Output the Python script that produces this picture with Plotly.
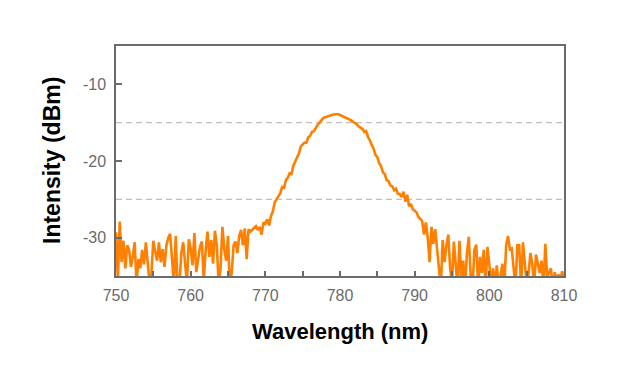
import numpy as np
import plotly.graph_objects as go

# wavelength grid: 750 .. 810 nm in 0.25 nm steps
wl_start, wl_step = 750.0, 0.25

intensity = [
    # 750
    -29.3, -35.5, -27.9, -33.2,
    -30.4, -34.0, -31.0, -31.6,
    -33.8, -32.5, -30.6, -36.0,
    -32.8, -34.0, -31.6, -33.5,
    -30.6, -33.8, -36.0, -34.5,
    # 755
    -30.4, -31.8, -33.0, -30.6,
    -33.2, -31.5, -33.8, -31.0,
    -30.0, -29.5, -32.8, -36.0,
    -29.8, -36.5, -36.0, -32.0,
    -30.6, -33.5, -36.0, -30.2,
    # 760
    -31.4, -33.6, -29.4, -34.5,
    -33.0, -31.2, -30.5, -35.5,
    -31.8, -29.2, -32.5, -30.3,
    -33.4, -29.1, -31.0, -36.2,
    -34.0, -28.6, -31.5, -33.0,
    # 765
    -29.8, -36.5, -34.5, -31.0,
    -30.5, -32.0, -29.8, -29.0,
    -31.0, -28.8, -32.8, -28.9,
    -29.2, -29.0, -28.7, -28.5,
    -29.0, -28.6, -29.6, -28.0,
    # 770
    -28.2, -27.6, -28.4, -27.2,
    -26.6, -25.4, -25.0, -24.6,
    -24.2, -23.4, -23.5, -22.5,
    -22.2, -21.6, -21.7, -20.6,
    -20.0, -19.6, -19.0, -18.1,
    # 775
    -17.8, -17.6, -17.6, -16.9,
    -16.7, -16.2, -16.1, -15.6,
    -15.3, -15.0, -14.7, -14.4,
    -14.3, -14.2, -14.1, -14.0,
    -13.9, -13.9, -13.9, -13.9,
    # 780
    -14.0, -14.1, -14.2, -14.3,
    -14.4, -14.6, -14.7, -14.9,
    -15.0, -15.2, -15.5, -15.7,
    -15.8, -16.2, -16.1, -16.9,
    -17.3, -17.9, -18.4, -19.2,
    # 785
    -19.5, -20.3, -20.7, -21.5,
    -21.7, -22.5, -22.6, -23.2,
    -23.3, -23.8, -23.6, -24.3,
    -24.3, -24.7, -24.0, -25.3,
    -24.4, -25.9, -25.6, -26.3,
    # 790
    -26.5, -26.7, -27.3, -27.6,
    -27.8, -29.6, -28.0, -30.0,
    -33.2, -28.6, -30.8, -28.9,
    -31.2, -33.5, -36.5, -30.3,
    -33.2, -31.0, -29.6, -34.0,
    # 795
    -35.8, -30.5, -33.2, -36.5,
    -30.4, -35.5, -33.0, -36.5,
    -32.0, -29.9, -35.0, -36.5,
    -31.6, -30.9, -36.5, -32.5,
    -34.6, -31.6, -36.5, -31.2,
    # 800
    -33.5, -36.5, -34.0, -36.5,
    -33.6, -36.5, -35.0, -33.4,
    -36.5, -31.0, -29.8, -31.5,
    -31.4, -34.5, -36.5, -31.0,
    -31.0, -36.5, -30.6, -33.4,
    # 805
    -36.0, -34.8, -32.0, -33.4,
    -36.5, -32.2, -33.5, -34.6,
    -33.0, -36.5, -30.8, -35.2,
    -34.5, -34.0, -36.5, -34.5,
    -35.5, -34.8, -35.5, -34.4,
    # 810
    -35.5,
]

wavelength = wl_start + wl_step * np.arange(len(intensity))

x_ticks = [750, 760, 770, 780, 790, 800, 810]
x_ticktext = ["750", "760", "770", "780", "790", "800", "810"]
y_ticks = [-30, -20, -10]
y_ticktext = ["-30", "-20", "-10"]
grid_levels = [-15, -25]

x_title = "Wavelength (nm)"
y_title = "Intensity (dBm)"

axis_col = "#6b6b6b"
font_fam = "Arial, Liberation Sans, sans-serif"

fig = go.Figure()
fig.add_trace(go.Scatter(
    x=wavelength, y=intensity, mode="lines",
    line=dict(color="#ff7f00", width=2.6),
    showlegend=False,
))

for g in grid_levels:
    fig.add_hline(y=g, line=dict(color="#c0c0c0", width=1.2, dash="6px,4px"),
                  layer="below")

# page body has an 8px margin, so the figure is sized to end at 640x384
fig.update_layout(
    width=632, height=376,
    margin=dict(l=108, r=76, t=38, b=108),
    paper_bgcolor="white", plot_bgcolor="white",
    font=dict(family=font_fam),
)
fig.update_xaxes(
    range=[750, 810], tickvals=x_ticks, ticktext=x_ticktext,
    showline=True, linecolor=axis_col, linewidth=1.5, mirror=True,
    ticks="inside", ticklen=5, tickcolor=axis_col, tickwidth=1.5,
    minor=dict(dtick=5, tick0=750, ticks="inside", ticklen=5,
               tickcolor=axis_col, tickwidth=1.5),
    showgrid=False, zeroline=False, automargin=False,
    tickfont=dict(size=16, color=axis_col),
    ticklabelstandoff=4,
)
fig.update_yaxes(
    range=[-35, -5], tickvals=y_ticks, ticktext=y_ticktext,
    showline=True, linecolor=axis_col, linewidth=1.5, mirror=True,
    ticks="inside", ticklen=6, tickcolor=axis_col, tickwidth=1.5,
    showgrid=False, zeroline=False, automargin=False,
    tickfont=dict(size=16, color=axis_col),
    ticklabelstandoff=5,
)

fig.add_annotation(
    text="<b>%s</b>" % x_title, xref="paper", yref="paper",
    x=0.5, y=0, xanchor="center", yanchor="middle", yshift=-55,
    showarrow=False, font=dict(size=22, color="black", family=font_fam),
)
fig.add_annotation(
    text="<b>%s</b>" % y_title, xref="paper", yref="paper",
    x=0, y=0.5, xanchor="center", yanchor="middle", xshift=-64,
    textangle=-90,
    showarrow=False, font=dict(size=23, color="black", family=font_fam),
)

fig.write_html("out.html")
